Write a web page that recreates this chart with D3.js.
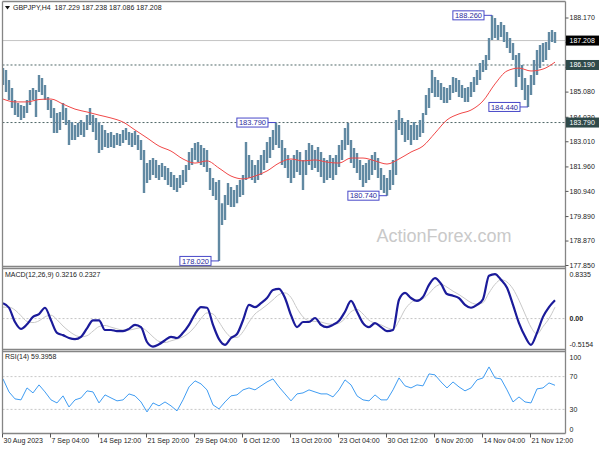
<!DOCTYPE html>
<html><head><meta charset="utf-8">
<script src="https://cdn.jsdelivr.net/npm/d3@7"></script>
<style>
html,body{margin:0;padding:0;background:#fff;}
svg{display:block;font-family:"Liberation Sans",Arial,sans-serif;}
</style></head><body>
<svg id="c" width="600" height="450"></svg>
<script>
// ---------- DATA ----------
const symbol = "GBPJPY,H4";
const headerOHLC = ["187.229", "187.238", "187.086", "187.208"];
const barHigh = [
186.06,185.98,185.56,185.23,184.73,184.60,184.52,184.48,184.73,185.15,
185.23,185.15,185.77,185.65,185.36,184.86,184.73,184.40,184.19,184.23,
184.60,184.40,183.90,183.81,183.69,183.77,183.90,183.81,184.10,184.40,
184.10,183.98,183.81,183.69,183.48,183.35,183.40,183.27,183.35,183.31,
183.48,183.56,183.40,183.35,183.44,183.27,183.06,182.65,182.10,182.23,
182.31,182.23,182.02,182.10,181.98,181.89,181.73,181.60,181.48,181.60,
181.81,182.02,182.56,182.73,182.94,182.98,182.85,182.73,182.65,181.89,
181.48,181.31,181.39,180.43,180.77,181.27,181.10,180.98,181.19,181.39,
181.60,182.98,182.44,182.23,182.02,182.23,182.44,182.65,182.98,183.19,
183.48,183.79,183.69,183.06,182.73,182.44,182.23,182.44,182.65,182.56,
182.23,182.65,182.94,182.85,182.65,182.77,182.56,182.31,182.23,182.44,
182.31,182.44,182.85,183.06,183.56,183.77,183.06,182.73,182.52,182.23,
182.02,182.10,182.23,182.44,182.56,182.31,181.89,181.60,181.48,181.81,
182.23,183.90,184.31,183.98,183.81,183.90,183.69,183.81,183.69,183.90,
184.19,184.94,185.23,185.98,185.69,185.56,185.44,185.27,185.23,185.36,
185.69,185.65,185.56,185.36,185.23,185.27,185.48,185.69,185.98,186.27,
186.40,186.61,187.32,188.26,188.15,187.86,187.98,187.86,187.57,187.32,
187.11,186.61,186.69,186.19,185.65,185.36,185.77,186.40,186.82,187.02,
187.11,187.15,187.57,187.65,187.57];
const barLow = [
185.36,185.06,184.73,184.40,184.10,184.02,183.90,183.98,184.19,184.52,
184.73,184.02,185.06,184.94,184.73,184.31,183.98,183.35,183.35,183.48,
183.90,183.69,182.85,183.06,183.06,183.19,183.27,183.19,183.48,183.69,
183.40,183.06,182.52,182.65,182.77,182.73,182.77,182.73,182.85,182.81,
182.94,183.06,182.85,182.77,182.85,182.65,182.23,180.85,181.27,181.39,
181.60,181.48,181.39,181.52,181.39,181.19,181.10,180.98,180.89,181.06,
181.19,181.31,181.81,182.02,182.23,182.14,182.02,181.94,181.73,180.98,
180.73,180.56,178.02,179.52,179.73,180.35,180.27,180.27,180.43,180.69,
180.77,181.39,181.48,181.39,181.27,181.39,181.60,181.81,182.10,182.31,
182.65,182.85,182.73,182.02,181.89,181.48,181.27,181.48,181.73,181.60,
180.98,181.60,182.02,181.81,181.89,181.73,181.52,181.27,181.39,181.48,
181.39,181.60,181.94,182.23,182.65,182.85,182.10,181.89,181.69,181.39,
181.10,181.27,181.39,181.60,181.81,181.48,180.98,180.85,180.74,180.98,
181.19,181.60,183.48,183.27,182.98,183.06,182.85,183.06,183.06,183.19,
183.35,184.10,184.40,185.02,184.86,184.86,184.73,184.60,184.60,184.73,
185.02,185.06,184.86,184.81,184.65,184.65,184.86,185.06,185.36,185.56,
185.90,185.98,186.40,187.23,187.32,187.23,187.36,187.15,186.90,186.69,
186.40,185.27,185.69,185.15,184.73,184.44,184.94,185.36,185.77,186.06,
186.31,186.40,186.82,187.15,187.11];
// moving average, one value every 4 bars
const maValues = [
184.77,184.65,184.65,184.75,184.77,184.56,184.35,184.23,184.10,183.98,
183.81,183.48,183.15,182.81,182.60,182.27,182.10,182.19,181.89,181.56,
181.44,181.56,181.77,182.10,182.27,182.19,182.23,182.14,182.10,182.31,
182.31,182.19,182.06,182.27,182.56,182.81,183.35,183.90,184.15,184.31,
184.69,185.40,185.94,186.06,185.94,186.02,186.31];
// indicators, one value every 2 bars
const macdValues = [
0.27,0.19,-0.06,-0.18,-0.10,0.03,0.08,0.19,-0.03,-0.25,
-0.29,-0.34,-0.36,-0.32,-0.17,-0.03,-0.03,-0.20,-0.20,-0.22,
-0.22,-0.18,-0.11,-0.15,-0.41,-0.49,-0.45,-0.38,-0.32,-0.34,
-0.25,-0.11,0.08,0.20,0.19,-0.11,-0.36,-0.46,-0.34,-0.27,
-0.03,0.24,0.20,0.27,0.36,0.50,0.52,0.36,0.06,-0.15,
-0.06,-0.06,0.01,-0.11,-0.15,-0.11,-0.04,0.12,0.31,0.12,
-0.08,-0.15,-0.08,-0.15,-0.22,-0.20,0.33,0.45,0.36,0.31,
0.38,0.59,0.71,0.61,0.43,0.40,0.36,0.24,0.19,0.24,
0.34,0.75,0.78,0.68,0.54,0.24,-0.08,-0.31,-0.46,-0.25,
0.03,0.20,0.32];
const signalValues = [
0.20,0.20,0.15,0.05,-0.05,-0.07,-0.04,0.03,0.06,-0.02,
-0.13,-0.22,-0.29,-0.32,-0.30,-0.22,-0.14,-0.12,-0.15,-0.18,
-0.20,-0.20,-0.18,-0.16,-0.22,-0.32,-0.40,-0.42,-0.39,-0.36,
-0.32,-0.25,-0.14,0.00,0.10,0.08,-0.06,-0.22,-0.32,-0.33,
-0.23,-0.06,0.08,0.16,0.24,0.33,0.42,0.45,0.37,0.18,
0.03,-0.04,-0.05,-0.06,-0.09,-0.10,-0.08,0.00,0.12,0.16,
0.08,-0.03,-0.08,-0.11,-0.16,-0.19,-0.04,0.16,0.28,0.33,
0.35,0.44,0.55,0.60,0.55,0.48,0.42,0.35,0.28,0.25,
0.28,0.45,0.60,0.68,0.64,0.52,0.32,0.08,-0.15,-0.27,
-0.14,0.00,0.20];
const rsiValues = [
67.2,51.3,42.8,41.6,56.2,50.1,59.9,51.3,41.6,37.9,
46.5,33.0,41.6,44.0,52.6,51.3,37.9,47.7,44.0,40.4,
41.6,48.9,46.5,39.1,26.9,37.9,34.3,39.1,34.3,28.2,
41.6,57.4,64.8,61.1,53.8,35.5,30.6,39.1,46.5,47.7,
53.8,56.2,53.8,58.7,63.5,67.2,57.4,48.9,40.4,48.9,
50.1,53.8,51.3,48.9,48.9,45.2,53.8,66.0,59.9,46.5,
41.6,40.4,47.7,41.6,41.6,53.8,68.4,58.7,56.2,59.9,
58.7,73.3,72.1,63.5,56.2,63.5,57.4,52.6,56.2,66.0,
68.4,81.8,68.4,67.2,53.8,39.1,45.2,39.1,37.9,55.0,
56.2,62.3,59.4];
const priceTicks = [177.85,178.87,179.89,180.94,181.96,183.01,184.03,185.08,186.10,187.15,188.17];
const priceRange = [177.85, 188.17];
const macdRange = [-0.5154, 0.8335];
const macdTicks = [0.8335, 0, -0.5154];
const macdTickText = ["0.8335", "0.00", "-0.5154"];
const macdTitle = "MACD(12,26,9) 0.3216 0.2327";
const rsiTicks = [100, 70, 30, 0];
const rsiLevels = [70, 30];
const rsiTitle = "RSI(14) 59.3958";
const timeLabels = ["30 Aug 2023","7 Sep 04:00","14 Sep 12:00","21 Sep 20:00","29 Sep 04:00","6 Oct 12:00","13 Oct 20:00","23 Oct 04:00","30 Oct 12:00","6 Nov 20:00","14 Nov 04:00","21 Nov 12:00"];
const barsPerLabel = 16;
const lastPrice = 187.208;
const levelPrices = [186.19, 183.79];
const swingLabels = [
  {value: 188.26, bar: 163},
  {value: 184.44, bar: 175},
  {value: 183.79, bar: 91},
  {value: 180.74, bar: 128},
  {value: 178.02, bar: 72}
];
const watermark = "ActionForex.com";

// ---------- LAYOUT ----------
const svg = d3.select("#c");
const L = 2.5, R = 565.5;
const P = {main:[2,266], macd:[269,349], rsi:[352,433]};
const FS = 7;

const x = d3.scaleLinear().domain([0, barHigh.length - 1]).range([3, 555]);
const yP = d3.scaleLinear().domain(priceRange).range([265, 17.5]);
const yM = d3.scaleLinear().domain(macdRange).range([348, 271]);
const yR = d3.scaleLinear().domain([0, 100]).range([434, 352]);

const defs = svg.append("defs");
Object.entries(P).forEach(([k, [t, b]]) => {
  defs.append("clipPath").attr("id", "clip-" + k)
    .append("rect").attr("x", L).attr("y", t).attr("width", R - L).attr("height", b - t);
});

// ---------- MAIN PANEL ----------
const gMain = svg.append("g").attr("clip-path", "url(#clip-main)");

gMain.append("text").attr("x", 444).attr("y", 242).attr("text-anchor", "middle")
  .attr("font-size", 18).attr("fill", "#c9c9c9").text(watermark);

gMain.append("line").attr("x1", L).attr("x2", R)
  .attr("y1", yP(lastPrice)).attr("y2", yP(lastPrice))
  .attr("stroke", "#c4c4c4").attr("stroke-width", 1);

gMain.selectAll("line.lvl").data(levelPrices).join("line").attr("class", "lvl")
  .attr("x1", L).attr("x2", R).attr("y1", d => yP(d)).attr("y2", d => yP(d))
  .attr("stroke", "#4f6767").attr("stroke-width", 1).attr("stroke-dasharray", "2,2");

gMain.selectAll("line.bar").data(barHigh).join("line").attr("class", "bar")
  .attr("x1", (d, i) => x(i)).attr("x2", (d, i) => x(i))
  .attr("y1", d => yP(d)).attr("y2", (d, i) => yP(barLow[i]))
  .attr("stroke", "#6189a2").attr("stroke-width", 2.4);

gMain.append("path").datum(maValues)
  .attr("d", d3.line().x((d, i) => x(i * 4)).y(d => yP(d)).curve(d3.curveMonotoneX))
  .attr("fill", "none").attr("stroke", "#f04848").attr("stroke-width", 1);

// swing labels
swingLabels.forEach(s => {
  const bx = x(s.bar), by = yP(s.value);
  const g = gMain.append("g");
  const t = g.append("text").attr("font-size", 7.5).attr("fill", "#2b2b9c")
    .attr("dy", "0.35em").text(s.value.toFixed(3));
  const w = t.node().getComputedTextLength();
  const right = bx - 8;
  t.attr("x", right - w - 2).attr("y", by);
  g.insert("rect", "text").attr("x", right - w - 4).attr("y", by - 4.5)
    .attr("width", w + 4).attr("height", 9)
    .attr("fill", "#fff").attr("stroke", "#4848c8").attr("stroke-width", 1);
  g.append("line").attr("x1", right).attr("x2", bx).attr("y1", by).attr("y2", by)
    .attr("stroke", "#4848c8").attr("stroke-width", 1);
});

// header
svg.append("path").attr("d", "M5,6 L10,6 L7.5,9.5 Z").attr("fill", "#111");
svg.append("text").attr("x", 13).attr("y", 7.5).attr("dy", "0.35em")
  .attr("font-size", FS).attr("fill", "#1a1a1a").style("white-space", "pre")
  .text(symbol + "  " + headerOHLC.join(" "));

// ---------- MACD PANEL ----------
const gMacd = svg.append("g").attr("clip-path", "url(#clip-macd)");
gMacd.append("line").attr("x1", L).attr("x2", R).attr("y1", yM(0)).attr("y2", yM(0))
  .attr("stroke", "#c4c4c4").attr("stroke-dasharray", "2,2");
gMacd.append("path").datum(signalValues)
  .attr("d", d3.line().x((d, i) => x(i * 2)).y(d => yM(d)).curve(d3.curveMonotoneX))
  .attr("fill", "none").attr("stroke", "#c8c8c8").attr("stroke-width", 1);
gMacd.append("path").datum(macdValues)
  .attr("d", d3.line().x((d, i) => x(i * 2)).y(d => yM(d)).curve(d3.curveMonotoneX))
  .attr("fill", "none").attr("stroke", "#1b1b9a").attr("stroke-width", 2.2);
svg.append("text").attr("x", 5).attr("y", 275).attr("dy", "0.35em")
  .attr("font-size", FS).attr("fill", "#1a1a1a").text(macdTitle);

// ---------- RSI PANEL ----------
const gRsi = svg.append("g").attr("clip-path", "url(#clip-rsi)");
gRsi.selectAll("line.rl").data(rsiLevels).join("line").attr("class", "rl")
  .attr("x1", L).attr("x2", R).attr("y1", d => yR(d)).attr("y2", d => yR(d))
  .attr("stroke", "#c8c8c8").attr("stroke-dasharray", "2,2");
gRsi.append("path").datum(rsiValues)
  .attr("d", d3.line().x((d, i) => x(i * 2)).y(d => yR(d)))
  .attr("fill", "none").attr("stroke", "#3f9cf2").attr("stroke-width", 1);
svg.append("text").attr("x", 5).attr("y", 357).attr("dy", "0.35em")
  .attr("font-size", FS).attr("fill", "#1a1a1a").text(rsiTitle);

// ---------- FRAME ----------
const frame = svg.append("g").attr("stroke", "#858585").attr("stroke-width", 1.3);
frame.append("line").attr("x1", L).attr("x2", L).attr("y1", 1.5).attr("y2", 433.5);
frame.append("line").attr("x1", R).attr("x2", R).attr("y1", 1.5).attr("y2", 433.5);
[1.5, 266.5, 268.5, 349.5, 351.5, 433.5].forEach(yy =>
  frame.append("line").attr("x1", L).attr("x2", R).attr("y1", yy).attr("y2", yy));

// ---------- AXES ----------
function styleAxis(g) {
  g.select(".domain").remove();
  g.selectAll("text").attr("font-size", FS).attr("fill", "#222")
    .attr("font-family", '"Liberation Sans",Arial,sans-serif');
  g.selectAll("line").attr("stroke", "#555");
}
// price boxes drawn over the axis: tick labels fully covered by a box are not drawn
const boxes = [{v: lastPrice, fill: "#000"}].concat(levelPrices.map(v => ({v, fill: "#2f4a4a"})));
const covered = d => boxes.some(b => Math.abs(yP(b.v) - yP(d)) < 5);
const ap = svg.append("g").attr("transform", `translate(${R},0)`)
  .call(d3.axisRight(yP).tickValues(priceTicks).tickFormat(d3.format(".3f")).tickSize(3).tickPadding(1))
  .call(styleAxis);
ap.selectAll(".tick text").filter(d => covered(d)).remove();

const am = svg.append("g").attr("transform", `translate(${R},0)`)
  .call(d3.axisRight(yM).tickValues(macdTicks).tickFormat((d, i) => macdTickText[i]).tickSize(0).tickPadding(4))
  .call(styleAxis);
am.selectAll(".tick text").attr("dy", (d, i) => i === 0 ? "0.85em" : i === 2 ? "-0.2em" : "0.32em")
  .attr("font-weight", (d, i) => i === 1 ? "bold" : null);

const ar = svg.append("g").attr("transform", `translate(${R},0)`)
  .call(d3.axisRight(yR).tickValues(rsiTicks).tickSize(0).tickPadding(4))
  .call(styleAxis);
ar.selectAll(".tick text").attr("dy", (d, i) => i === 0 ? "1.0em" : i === 3 ? "-0.35em" : "0.32em");

const ax = svg.append("g").attr("transform", `translate(-1,${P.rsi[1] + 0.5})`)
  .call(d3.axisBottom(x).tickValues(timeLabels.map((d, i) => i * barsPerLabel))
    .tickFormat((d, i) => timeLabels[i]).tickSize(4).tickPadding(1))
  .call(styleAxis);
ax.selectAll(".tick text").attr("text-anchor", "start").attr("dx", 1);

boxes.forEach(b => {
  const yy = yP(b.v);
  svg.append("rect").attr("x", 566).attr("y", yy - 5).attr("width", 33).attr("height", 10).attr("fill", b.fill);
  svg.append("text").attr("x", 569.5).attr("y", yy).attr("dy", "0.35em").attr("font-size", FS)
    .attr("fill", "#fff").text(b.v.toFixed(3));
});
</script>
</body></html>
